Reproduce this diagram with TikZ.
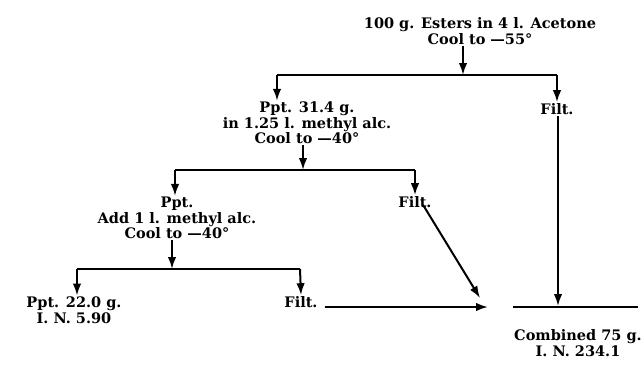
\documentclass[tikz,border=0pt]{standalone}
\usepackage{fontspec}
\setmainfont{DejaVu Serif}
\usetikzlibrary{arrows.meta}
\begin{document}
\begin{tikzpicture}[x=1pt,y=-1pt,
  lbl/.style={font=\bfseries\fontsize{14.5}{15.5}\selectfont, align=center, inner sep=1pt},
  arr/.style={line width=2pt, -{Latex[length=12pt,width=8.5pt]}},
  bar/.style={line width=2.6pt}]
\useasboundingbox (0,0) rectangle (644,375);
% nodes
\node[lbl] (start) at (480,31) {100 g. Esters in 4 l. Acetone\\Cool to —55°};
\node[lbl] (ppt1) at (307,123) {Ppt. 31.4 g.\\in 1.25 l. methyl alc.\\Cool to —40°};
\node[lbl] (filt1) at (557,109) {Filt.};
\node[lbl] (ppt2) at (177,218) {Ppt.\\Add 1 l. methyl alc.\\Cool to —40°};
\node[lbl] (filt2) at (415,202) {Filt.};
\node[lbl] (ppt3) at (74,310) {Ppt. 22.0 g.\\I. N. 5.90};
\node[lbl] (filt3) at (301,302) {Filt.};
\node[lbl] (comb) at (578,343) {Combined 75 g.\\I. N. 234.1};
% coordinates
\coordinate (j1) at (463,75);
\coordinate (b1l) at (277,75);
\coordinate (b1r) at (557,75);
\coordinate (j2) at (303,170);
\coordinate (b2l) at (175,170);
\coordinate (b2r) at (415,170);
\coordinate (j3) at (172,269);
\coordinate (b3l) at (77,269);
\coordinate (b3r) at (300,269);
\coordinate (m3) at (488,307);
\coordinate (m2) at (480,298);
\coordinate (m1) at (558,306);
\coordinate (cl) at (513,307);
\coordinate (cr) at (638,307);
% bracket 1
\draw[arr] (start.south -| j1) -- (j1);
\draw[bar] (b1l) -- (b1r);
\draw[arr] (b1l) -- (b1l |- ppt1.north);
\draw[arr] (b1r) -- (filt1.north);
% bracket 2
\draw[arr] (ppt1.south -| j2) -- (j2);
\draw[bar] (b2l) -- (b2r);
\draw[arr] (b2l) -- (b2l |- ppt2.north);
\draw[arr] (b2r) -- (filt2.north);
% bracket 3
\draw[arr] (ppt2.south -| j3) -- (j3);
\draw[bar] (b3l) -- (b3r);
\draw[arr] (b3l) -- (b3l |- ppt3.north);
\draw[arr] (b3r) -- (filt3.north);
% combining
\draw[arr] ([xshift=6pt]filt3.east |- m3) -- (m3);
\draw[arr] ([xshift=8pt,yshift=4pt]filt2.south) -- (m2);
\draw[arr] (filt1.south -| m1) -- (m1);
\draw[bar] (cl) -- (cr);
\end{tikzpicture}
\end{document}
